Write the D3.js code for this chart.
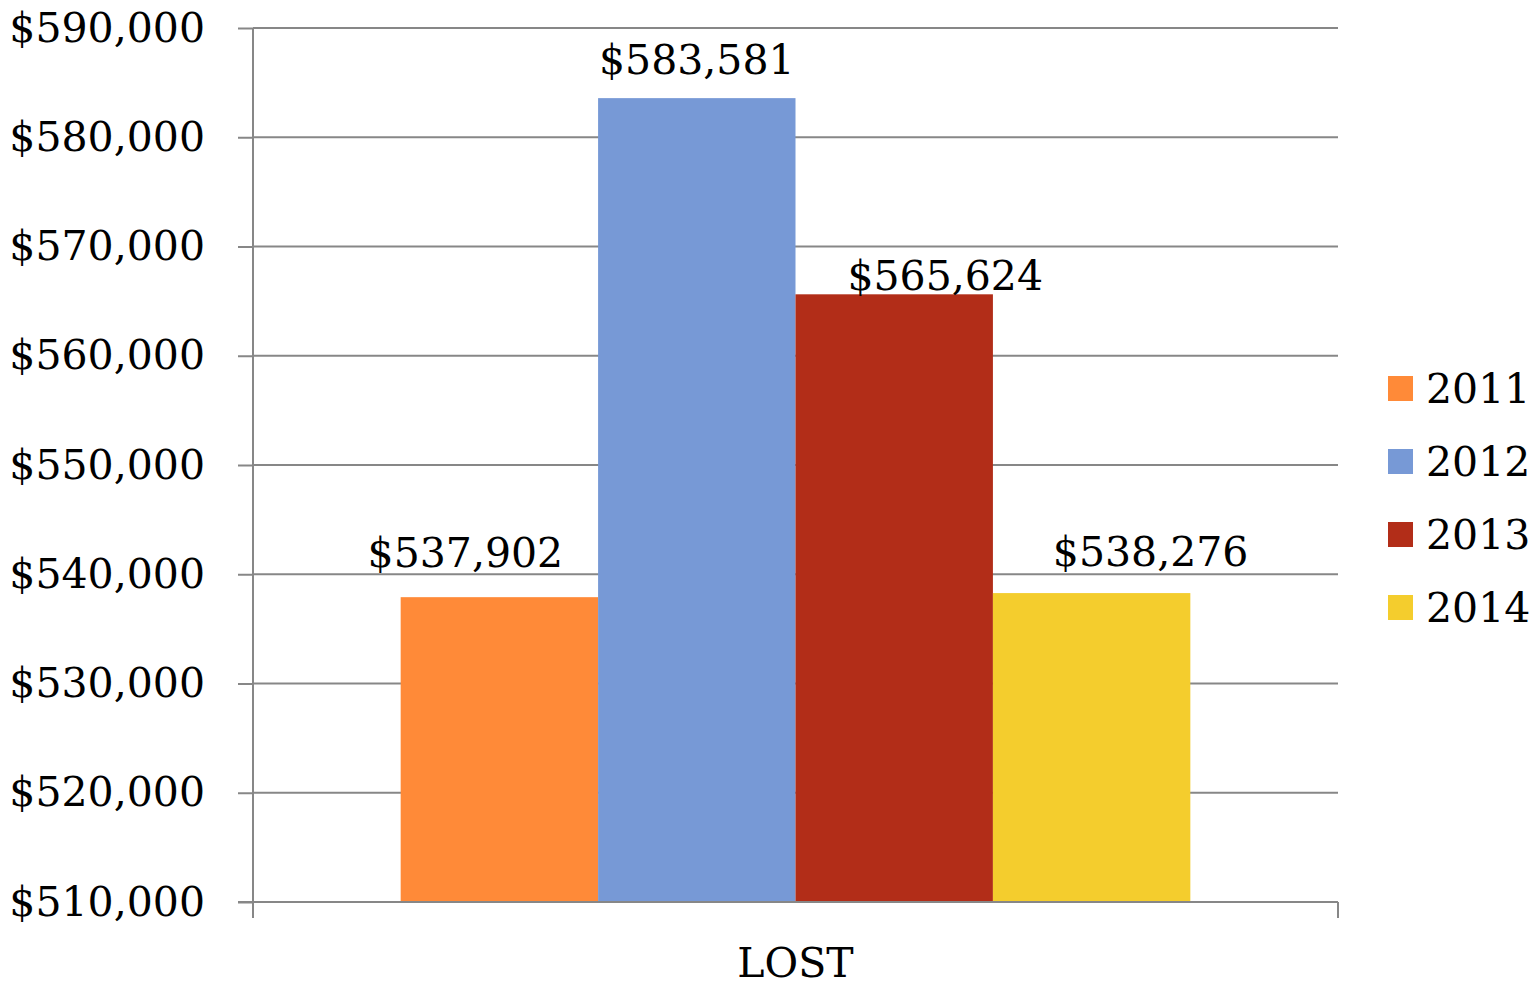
<!DOCTYPE html>
<html><head><meta charset="utf-8">
<script src="https://cdn.jsdelivr.net/npm/d3@7"></script>
<style>body{margin:0;background:#fff}svg{display:block}text{font-family:"DejaVu Serif",serif;fill:#000}</style>
</head><body>
<svg id="c" width="1538" height="987"></svg>
<script>
const categories = ["LOST"];
const series = ["2011", "2012", "2013", "2014"];
const values = [537902, 583581, 565624, 538276];
const colors = ["#FF8A38", "#7799D6", "#B22D18", "#F4CD2D"];
const yTicks = [510000, 520000, 530000, 540000, 550000, 560000, 570000, 580000, 590000];

const svg = d3.select("#c");
const L = 253, R = 1338, T = 28, B = 902;
const fs = 41;
const y = d3.scaleLinear().domain([510000, 590000]).range([B, T]);
const x0 = d3.scaleBand().domain(categories).range([L, R]).paddingInner(0).paddingOuter(0.187);
const x1 = d3.scaleBand().domain(series).range([0, x0.bandwidth()]).padding(0);
const fmt = v => "$" + d3.format(",")(v);
const grid = "#878787";

// gridlines
svg.append("g").selectAll("line").data(yTicks.slice(1)).join("line")
  .attr("x1", L).attr("x2", R).attr("y1", d => y(d)).attr("y2", d => y(d))
  .attr("stroke", grid).attr("stroke-width", 2);

// bars
const g = svg.append("g").selectAll("g").data(categories).join("g")
  .attr("transform", d => `translate(${x0(d)},0)`);
g.selectAll("rect").data(series.map((s, i) => ({s, v: values[i], c: colors[i]}))).join("rect")
  .attr("x", d => x1(d.s)).attr("width", x1.bandwidth())
  .attr("y", d => y(d.v)).attr("height", d => B - y(d.v))
  .attr("fill", d => d.c);

// value labels (manually nudged as in the original)
const nudge = {"2011": {dx: -34, dy: -6}, "2013": {dx: 51, dy: 20}, "2014": {dx: 59, dy: -3}};
g.selectAll("text").data(series.map((s, i) => ({s, v: values[i]}))).join("text")
  .attr("x", d => x1(d.s) + x1.bandwidth() / 2 + ((nudge[d.s] || {}).dx || 0))
  .attr("y", d => y(d.v) - 24 + ((nudge[d.s] || {}).dy || 0))
  .attr("text-anchor", "middle").attr("font-size", fs)
  .text(d => fmt(d.v));

// y axis
const ya = svg.append("g").attr("transform", `translate(${L},0)`)
  .call(d3.axisLeft(y).tickValues(yTicks).tickSize(15).tickPadding(33).tickFormat(fmt));
ya.select(".domain").remove();
ya.selectAll(".tick line").attr("stroke", grid).attr("stroke-width", 2);
ya.selectAll(".tick text").attr("font-size", fs).attr("font-family", "DejaVu Serif").attr("fill", "#000");
svg.append("line").attr("x1", L).attr("x2", L).attr("y1", T).attr("y2", B + 16)
  .attr("stroke", grid).attr("stroke-width", 2);

// x axis
svg.append("line").attr("x1", L - 15).attr("x2", R).attr("y1", B).attr("y2", B)
  .attr("stroke", grid).attr("stroke-width", 2);
svg.append("line").attr("x1", R).attr("x2", R).attr("y1", B).attr("y2", B + 16)
  .attr("stroke", grid).attr("stroke-width", 2);
svg.append("g").selectAll("text").data(categories).join("text")
  .attr("x", d => x0(d) + x0.bandwidth() / 2).attr("y", 977)
  .attr("text-anchor", "middle").attr("font-size", fs).text(d => d);

// legend
const lg = svg.append("g").selectAll("g").data(series).join("g")
  .attr("transform", (d, i) => `translate(1388,${388 + i * 73})`);
lg.append("rect").attr("x", 0).attr("y", -12).attr("width", 25).attr("height", 25)
  .attr("fill", (d, i) => colors[i]);
lg.append("text").attr("x", 38).attr("y", 0).attr("dy", "0.36em").attr("font-size", fs).text(d => d);
</script>
</body></html>
